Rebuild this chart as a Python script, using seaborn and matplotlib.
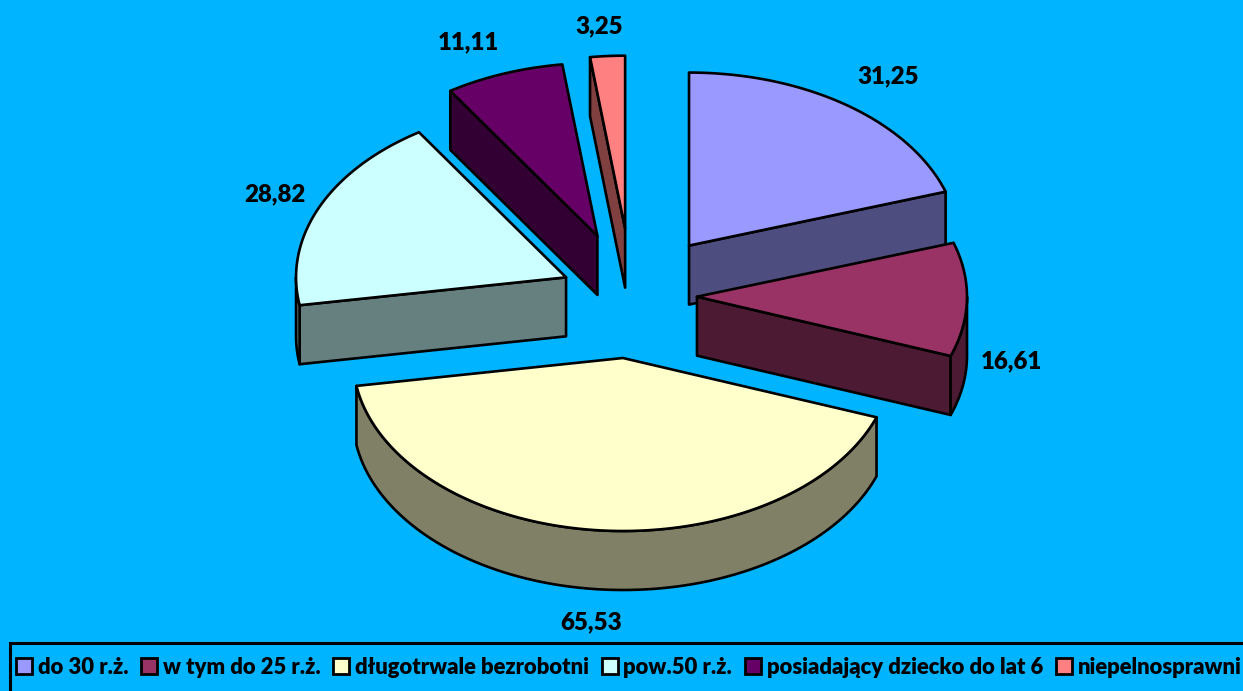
import numpy as np
import matplotlib
matplotlib.use("Agg")
import matplotlib.pyplot as plt
from matplotlib.patches import Patch, Rectangle
from matplotlib.colors import to_rgb
import seaborn as sns

categories = ["do 30 r.ż.", "w tym do 25 r.ż.", "długotrwale bezrobotni",
              "pow.50 r.ż.", "posiadający dziecko do lat 6", "niepelnosprawni"]
values = [31.25, 16.61, 65.53, 28.82, 11.11, 3.25]
value_labels = ["31,25", "16,61", "65,53", "28,82", "11,11", "3,25"]
colors = ["#9999FF", "#993366", "#FFFFCC", "#CCFFFF", "#660066", "#FF8080"]

# layout / style
explode = [0.36, 0.2407, 0.36, 0.267, 0.37, 0.39]
label_xy = [(888, 76), (1011, 361), (591, 622), (275, 194), (468, 42), (599, 26)]
center = (632.0, 296.0)
rx, ry, depth = 270.0, 173.0, 59.0
bg = "#00B4FF"
draw_order = [5, 4, 0, 3, 1, 2]

sns.set_theme(style="white")
plt.rcParams["font.family"] = ["Lato", "DejaVu Sans"]
palette = sns.color_palette(colors)

fig = plt.figure(figsize=(12.43, 6.91), dpi=100, facecolor=bg)
ax = fig.add_axes([0, 0, 1, 1])
ax.set_xlim(0, 1243)
ax.set_ylim(691, 0)
ax.axis("off")


def rim(x0, y0, a0, a1, n=120):
    t = np.radians(np.linspace(a0, a1, n))
    return x0 + rx * np.sin(t), y0 - ry * np.cos(t)


lw = 1.9
edges = np.cumsum([0] + values) / sum(values) * 360
for i in draw_order:
    a0, a1 = edges[i], edges[i + 1]
    mid = np.radians((a0 + a1) / 2)
    x0 = center[0] + explode[i] * rx * np.sin(mid)
    y0 = center[1] - explode[i] * ry * np.cos(mid)
    face = to_rgb(palette[i])
    dark = tuple(c * 0.5 for c in face)
    kw = dict(edgecolor="black", linewidth=lw, joinstyle="round", closed=True)
    # radial side walls
    for a, visible in ((a0, np.sin(np.radians(a0)) < -1e-6),
                       (a1, np.sin(np.radians(a1)) > 1e-6)):
        if visible:
            px, py = rim(x0, y0, a, a, 1)
            ax.fill([x0, px[0], px[0], x0], [y0, py[0], py[0] + depth, y0 + depth],
                    facecolor=dark, **kw)
    # outer rim wall
    lo, hi = max(a0, 90), min(a1, 270)
    if hi > lo:
        px, py = rim(x0, y0, lo, hi)
        ax.fill(np.r_[px, px[::-1]], np.r_[py, py[::-1] + depth], facecolor=dark, **kw)
    # top face
    px, py = rim(x0, y0, a0, a1)
    ax.fill(np.r_[x0, px], np.r_[y0, py], facecolor=face, **kw)

for (lx, ly), text in zip(label_xy, value_labels):
    ax.text(lx, ly, text, ha="center", va="center", fontsize=17.3, fontweight=800, color="black")

# legend box runs off the right and bottom of the picture
ax.add_patch(Rectangle((10, 643), 1300, 100, facecolor=bg, edgecolor="black", linewidth=2.2))
handles = [Patch(facecolor=c, edgecolor="black", linewidth=2.0) for c in palette]
leg = ax.legend(handles, categories, loc="center left", bbox_to_anchor=(16, 667),
                bbox_transform=ax.transData, ncol=6, borderaxespad=0, borderpad=0,
                handlelength=0.72, handleheight=0.72,
                handletextpad=0.27, columnspacing=0.58, frameon=False,
                labelcolor="black", prop=dict(weight=800, size=15.8))

fig.savefig("out.png", dpi=100, facecolor=bg)
